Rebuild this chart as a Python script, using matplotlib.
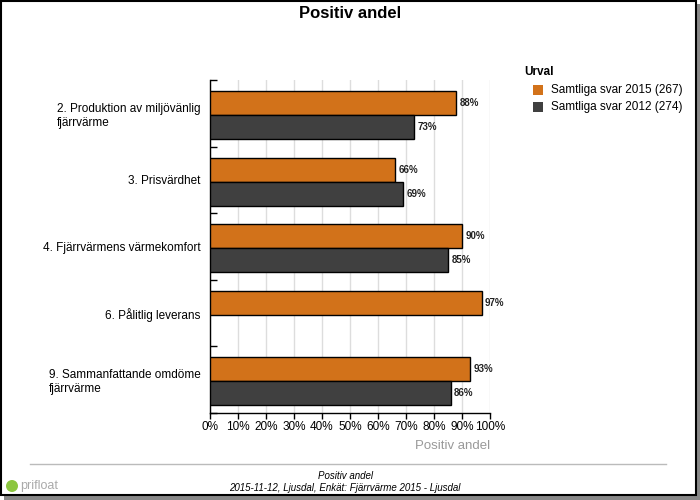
import matplotlib
matplotlib.use("Agg")
import matplotlib.pyplot as plt
from matplotlib.patches import Rectangle, Ellipse
import numpy as np

plt.rcParams['font.family'] = ['Liberation Sans', 'DejaVu Sans']

categories = ["2. Produktion av miljövänlig\nfjärrvärme", "3. Prisvärdhet",
              "4. Fjärrvärmens värmekomfort", "6. Pålitlig leverans",
              "9. Sammanfattande omdöme\nfjärrvärme"]
series_names = ["Samtliga svar 2015 (267)", "Samtliga svar 2012 (274)"]
values_2015 = [88, 66, 90, 97, 93]
values_2012 = [73, 69, 85, None, 86]
colors = ["#D2721A", "#404040"]
xticks = list(range(0, 101, 10))

W, H = 700, 500
fig = plt.figure(figsize=(7, 5), dpi=100)
ax = fig.add_axes([210 / W, 1 - 413 / H, 280 / W, 333 / H])

n = len(categories)
y = np.arange(n)
h = 0.36
shift = 0.025
for i, (vals, col, off) in enumerate([(values_2015, colors[0], -h / 2 + shift), (values_2012, colors[1], h / 2 + shift)]):
    for yi, v in zip(y, vals):
        if v is None:
            continue
        ax.barh(yi + off, v, height=h, color=col, edgecolor='black', linewidth=1, zorder=3)
        ax.text(v + 1.2, yi + off, f"{v}%", va='center', ha='left', fontsize=7,
                fontweight='bold', color='#222222', zorder=4)

ax.set_xlim(0, 100)
ax.set_ylim(n - 0.5, -0.5)
ax.set_xticks(xticks)
ax.set_xticklabels([f"{t}%" for t in xticks], fontsize=8.5)
ax.xaxis.grid(True, color='#dddddd', linewidth=1, zorder=0)
ax.set_axisbelow(True)
ax.tick_params(axis='x', direction='out', length=4, width=1, pad=2)

ax.set_yticks(np.arange(-0.5, n, 1.0))
ax.set_yticklabels([])
ax.tick_params(axis='y', which='major', direction='in', length=5, width=1)
ax.set_yticks(y, minor=True)
ax.set_yticklabels(categories, minor=True, fontsize=8.5, multialignment='left')
ax.tick_params(axis='y', which='minor', length=0, pad=7)

for s in ['top', 'right']:
    ax.spines[s].set_visible(False)
for s in ['left', 'bottom']:
    ax.spines[s].set_linewidth(1)
    ax.spines[s].set_color('black')

# x label
fig.text(490 / W, 1 - 446 / H, "Positiv andel", ha='right', va='center', fontsize=9.5, color='#999999')

# title
fig.text(350 / W, 1 - 13 / H, "Positiv andel", ha='center', va='center', fontsize=12, fontweight='bold')

# legend
fig.text(524 / W, 1 - 72 / H, "Urval", ha='left', va='center', fontsize=8.5, fontweight='bold')
for k, (name, col) in enumerate(zip(series_names, colors)):
    yc = 90 + k * 17
    fig.patches.append(Rectangle((533 / W, 1 - (yc + 5) / H), 10 / W, 10 / H,
                                 transform=fig.transFigure, facecolor=col, edgecolor='none'))
    fig.text(551 / W, 1 - yc / H, name, ha='left', va='center', fontsize=8.5)

# footer
fig.add_artist(plt.Line2D([30 / W, 666 / W], [1 - 464 / H, 1 - 464 / H], color='#bbbbbb', linewidth=1))
fig.text(345 / W, 1 - 476 / H, "Positiv andel", ha='center', va='center', fontsize=7, style='italic')
fig.text(345 / W, 1 - 488 / H, "2015-11-12, Ljusdal, Enkät: Fjärrvärme 2015 - Ljusdal", ha='center',
         va='center', fontsize=7, style='italic')
fig.patches.append(Ellipse((12 / W, 1 - 486 / H), 12 / W, 12 / H, transform=fig.transFigure,
                           facecolor='#8cc63f', edgecolor='none'))
fig.text(20 / W, 1 - 486 / H, "prifloat", ha='left', va='center', fontsize=9, color='#aaaaaa')

# frame with shadow
fig.patches.append(Rectangle((4 / W, 0), 696 / W, 4 / H, transform=fig.transFigure,
                             facecolor='#888888', edgecolor='none'))
fig.patches.append(Rectangle((696 / W, 0), 4 / W, 496 / H, transform=fig.transFigure,
                             facecolor='#888888', edgecolor='none'))
fig.patches.append(Rectangle((1 / W, 5 / H), 695 / W, 494 / H, transform=fig.transFigure,
                             facecolor='none', edgecolor='black', linewidth=1.5))

fig.savefig("out.png", dpi=100)
